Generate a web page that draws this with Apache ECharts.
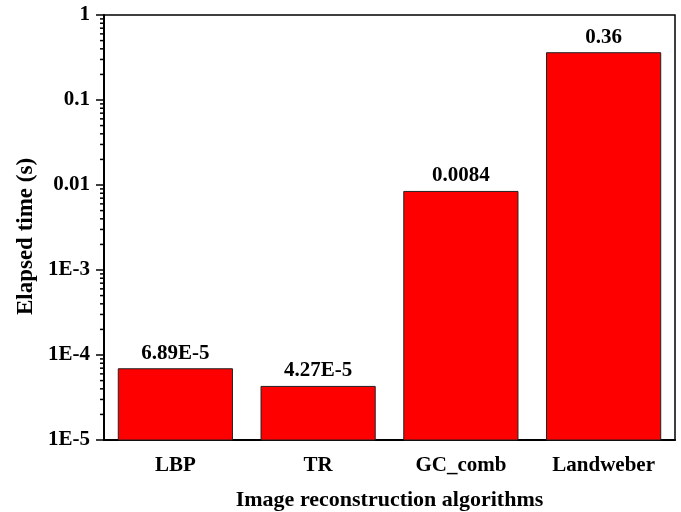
<!DOCTYPE html>
<html>
<head>
<meta charset="utf-8">
<script src="https://cdn.jsdelivr.net/npm/echarts@6/dist/echarts.min.js"></script>
<style>html,body{margin:0;padding:0;background:#fff;}#c{width:681px;height:512px;}</style>
</head>
<body>
<div id="c"></div>
<script>
const categories = ['LBP', 'TR', 'GC_comb', 'Landweber'];
const values = [6.89e-5, 4.27e-5, 0.0084, 0.36];
const barLabels = ['6.89E-5', '4.27E-5', '0.0084', '0.36'];
const yTickLabels = { '-5': '1E-5', '-4': '1E-4', '-3': '1E-3', '-2': '0.01', '-1': '0.1', '0': '1' };
const yMin = 1e-5, yMax = 1;
const minorTickValues = [];
for (let e = -5; e < 0; e++) {
  for (let m = 2; m <= 9; m++) minorTickValues.push([0, m * Math.pow(10, e)]);
}

const FONT = 'Liberation Serif';
const barData = values.map(function (v, i) { return [i, v]; });
const chart = echarts.init(document.getElementById('c'), null, { renderer: 'canvas' });
chart.setOption({
  animation: false,
  backgroundColor: '#fff',
  grid: { left: 104, right: 6, top: 15, bottom: 72, containLabel: false, outerBoundsMode: 'none', show: true, borderColor: '#000', borderWidth: 1.5, backgroundColor: 'transparent' },
  xAxis: [{
    type: 'category',
    data: categories,
    position: 'bottom',
    axisLine: { lineStyle: { color: '#000', width: 2 } },
    axisTick: { alignWithLabel: true, length: 8, lineStyle: { color: '#000', width: 1.5 } },
    axisLabel: { color: '#000', fontFamily: FONT, fontWeight: 'bold', fontSize: 21, margin: 15 },
    name: 'Image reconstruction algorithms',
    nameLocation: 'middle',
    nameGap: 49,
    nameTextStyle: { color: '#000', fontFamily: FONT, fontWeight: 'bold', fontSize: 22 }
  }, {
    type: 'category',
    data: categories,
    position: 'bottom',
    axisLine: { show: false },
    axisTick: { alignWithLabel: false, length: 4, lineStyle: { color: '#000', width: 1.5 } },
    axisLabel: { show: false }
  }],
  yAxis: {
    type: 'log',
    logBase: 10,
    min: yMin,
    max: yMax,
    splitLine: { show: false },
    axisLine: { show: true, lineStyle: { color: '#000', width: 2 } },
    axisTick: { show: true, length: 8, lineStyle: { color: '#000', width: 1.5 } },
    axisLabel: {
      color: '#000', fontFamily: FONT, fontWeight: 'bold', fontSize: 21, margin: 14,
      formatter: function (v) { return yTickLabels[String(Math.round(Math.log10(v)))] || ''; }
    },
    name: 'Elapsed time (s)',
    nameLocation: 'middle',
    nameGap: 66,
    nameTextStyle: { color: '#000', fontFamily: FONT, fontWeight: 'bold', fontSize: 23, padding: [0, 18, 0, 0] }
  },
  series: [{
    type: 'custom',
    data: barData,
    encode: { x: 0, y: 1 },
    renderItem: function (params, api) {
      const idx = api.value(0);
      const top = api.coord([idx, api.value(1)]);
      const base = api.coord([idx, yMin]);
      const w = api.size([1, 0])[0] * 0.8;
      return {
        type: 'group',
        children: [{
          type: 'rect',
          shape: { x: top[0] - w / 2, y: top[1], width: w, height: base[1] - top[1] },
          style: { fill: '#ff0000', stroke: '#222', lineWidth: 1 }
        }, {
          type: 'text',
          style: {
            x: top[0], y: top[1] - 5,
            text: barLabels[params.dataIndex],
            fill: '#000',
            font: 'bold 21px "' + FONT + '"',
            align: 'center', verticalAlign: 'bottom'
          }
        }]
      };
    }
  }, {
    type: 'custom',
    clip: false,
    silent: true,
    data: minorTickValues,
    encode: { x: 0, y: 1 },
    renderItem: function (params, api) {
      const pt = api.coord([0, api.value(1)]);
      const x0 = params.coordSys.x;
      return {
        type: 'line',
        shape: { x1: x0 - 4, y1: pt[1], x2: x0, y2: pt[1] },
        style: { stroke: '#000', lineWidth: 1.5 }
      };
    }
  }]
});
</script>
</body>
</html>
